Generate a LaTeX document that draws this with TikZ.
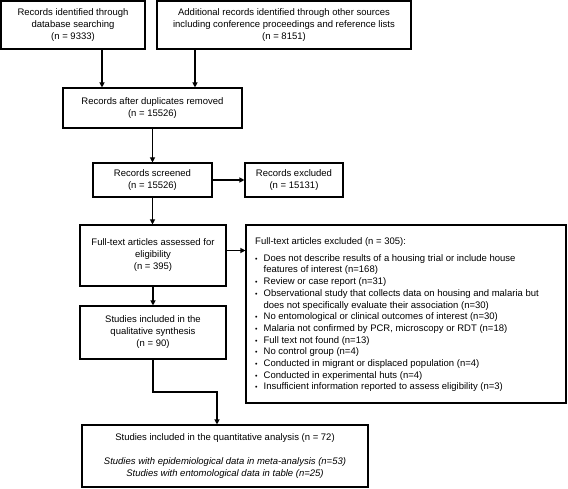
\documentclass[tikz,border=0pt]{standalone}
\usepackage{fontspec}
\setmainfont{Liberation Sans}
\usetikzlibrary{arrows.meta}
\begin{document}
\begin{tikzpicture}[x=1pt,y=-1pt,
  box/.style={draw=black,line width=1.1pt,align=center,inner sep=0pt,
    font=\fontsize{9.5}{12}\selectfont},
  arr/.style={line width=1.1pt,-{Triangle[length=5pt,width=5pt]}}]
\useasboundingbox (0,0) rectangle (568,489);
\node[box,minimum width=144pt,minimum height=48pt] (b1) at (73,25)
  {Records identified through\\database searching\\(n = 9333)};
\node[box,minimum width=254pt,minimum height=48pt] (b2) at (284,25)
  {Additional records identified through other sources\\including conference proceedings and reference lists\\(n = 8151)};
\node[box,minimum width=179pt,minimum height=40pt] (b3) at (152.5,108)
  {Records after duplicates removed\\(n = 15526)};
\node[box,minimum width=119pt,minimum height=34pt] (b4) at (152.5,180)
  {Records screened\\(n = 15526)};
\node[box,minimum width=98pt,minimum height=34pt] (b5) at (294,180)
  {Records excluded\\(n = 15131)};
\node[box,minimum width=146pt,minimum height=61pt] (b6) at (153,255.5)
  {Full-text articles assessed for\\eligibility\\(n = 395)};
\node[box,minimum width=320pt,minimum height=178pt] (b7) at (406,314) {};
\node[anchor=north west,inner sep=0pt,align=left,font=\fontsize{9.5}{11.7}\selectfont] (t7) at (255,237)
  {Full-text articles excluded (n = 305):\\[6pt]
   \begin{tabular}{@{}l@{\hspace{6pt}}l@{}}
   {\scriptsize\textbullet} & Does not describe results of a housing trial or include house\\
    & features of interest (n=168)\\
   {\scriptsize\textbullet} & Review or case report (n=31)\\
   {\scriptsize\textbullet} & Observational study that collects data on housing and malaria but\\
    & does not specifically evaluate their association (n=30)\\
   {\scriptsize\textbullet} & No entomological or clinical outcomes of interest (n=30)\\
   {\scriptsize\textbullet} & Malaria not confirmed by PCR, microscopy or RDT (n=18)\\
   {\scriptsize\textbullet} & Full text not found (n=13)\\
   {\scriptsize\textbullet} & No control group (n=4)\\
   {\scriptsize\textbullet} & Conducted in migrant or displaced population (n=4)\\
   {\scriptsize\textbullet} & Conducted in experimental huts (n=4)\\
   {\scriptsize\textbullet} & Insufficient information reported to assess eligibility (n=3)
   \end{tabular}};
\node[box,minimum width=146pt,minimum height=53pt] (b8) at (153,332.5)
  {Studies included in the\\qualitative synthesis\\(n = 90)};
\node[box,minimum width=286pt,minimum height=62pt] (b9) at (225,456)
  {Studies included in the quantitative analysis (n = 72)\\[12pt]
   \textit{Studies with epidemiological data in meta-analysis (n=53)}\\
   \textit{Studies with entomological data in table (n=25)}};
\draw[arr] ([xshift=29pt]b1.south) -- ([xshift=29pt]b1.south |- b3.north);
\draw[arr] ([xshift=-89pt]b2.south) -- ([xshift=-89pt]b2.south |- b3.north);
\draw[arr] (b3.south) -- (b3.south |- b4.north);
\draw[arr] (b4.east) -- (b4.east -| b5.west);
\draw[arr] (b4.south) -- (b4.south |- b6.north);
\draw[arr] ([yshift=5pt]b6.east) -- ([yshift=5pt]b6.east -| b7.west);
\draw[arr] (b6.south) -- (b6.south |- b8.north);
\coordinate (k) at (217,392);
\draw[arr] (b8.south) |- (k) -- (k |- b9.north);
\end{tikzpicture}
\end{document}
